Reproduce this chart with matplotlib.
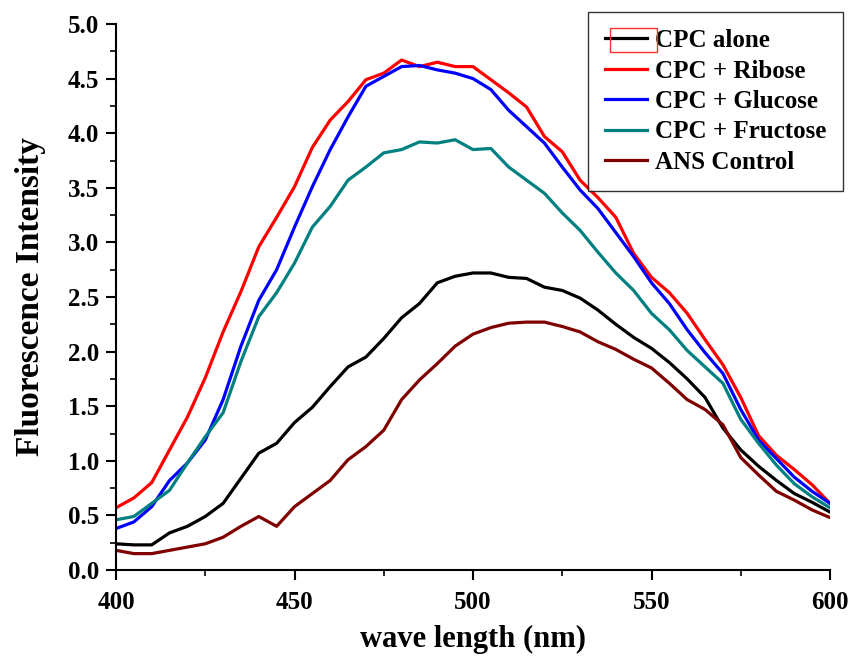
import matplotlib
matplotlib.use("Agg")
import matplotlib.pyplot as plt
from matplotlib.patches import Rectangle
from matplotlib.ticker import MultipleLocator

wavelength = list(range(400, 601, 5))

cpc_alone = [0.24, 0.23, 0.23, 0.34, 0.40, 0.49, 0.61, 0.84, 1.07, 1.16,
             1.35, 1.49, 1.68, 1.86, 1.95, 2.12, 2.31, 2.44, 2.63, 2.69,
             2.72, 2.72, 2.68, 2.67, 2.59, 2.56, 2.49, 2.38, 2.25, 2.13,
             2.03, 1.90, 1.75, 1.58, 1.30, 1.10, 0.95, 0.82, 0.70, 0.62, 0.53]

cpc_ribose = [0.57, 0.66, 0.80, 1.10, 1.40, 1.76, 2.18, 2.55, 2.96, 3.23,
              3.51, 3.87, 4.12, 4.29, 4.49, 4.55, 4.67, 4.61, 4.65, 4.61,
              4.61, 4.49, 4.37, 4.24, 3.97, 3.83, 3.57, 3.41, 3.23, 2.90,
              2.68, 2.54, 2.35, 2.11, 1.88, 1.58, 1.23, 1.05, 0.92, 0.78, 0.61]

cpc_glucose = [0.38, 0.44, 0.58, 0.82, 0.98, 1.19, 1.56, 2.05, 2.47, 2.75,
               3.14, 3.51, 3.85, 4.15, 4.43, 4.52, 4.61, 4.62, 4.58, 4.55,
               4.50, 4.40, 4.21, 4.06, 3.91, 3.69, 3.48, 3.31, 3.09, 2.87,
               2.63, 2.44, 2.20, 1.99, 1.80, 1.47, 1.19, 1.02, 0.85, 0.72, 0.61]

cpc_fructose = [0.46, 0.49, 0.61, 0.73, 0.98, 1.22, 1.44, 1.91, 2.32, 2.54,
                2.81, 3.14, 3.33, 3.57, 3.69, 3.82, 3.85, 3.92, 3.91, 3.94,
                3.85, 3.86, 3.69, 3.57, 3.45, 3.27, 3.11, 2.91, 2.72, 2.56,
                2.35, 2.20, 2.01, 1.86, 1.71, 1.38, 1.16, 0.96, 0.79, 0.67, 0.57]

ans_control = [0.18, 0.15, 0.15, 0.18, 0.21, 0.24, 0.30, 0.40, 0.49, 0.40,
               0.58, 0.70, 0.82, 1.01, 1.13, 1.28, 1.56, 1.74, 1.89, 2.05,
               2.16, 2.22, 2.26, 2.27, 2.27, 2.23, 2.18, 2.09, 2.02, 1.93,
               1.85, 1.71, 1.56, 1.47, 1.33, 1.03, 0.87, 0.72, 0.64, 0.55, 0.48]

labels = ["CPC alone", "CPC + Ribose", "CPC + Glucose", "CPC + Fructose", "ANS Control"]
colors = ["#000000", "#ff0000", "#0000ff", "#008080", "#800000"]
series = [cpc_alone, cpc_ribose, cpc_glucose, cpc_fructose, ans_control]

x_ticks = [400, 450, 500, 550, 600]
y_ticks = [0.0, 0.5, 1.0, 1.5, 2.0, 2.5, 3.0, 3.5, 4.0, 4.5, 5.0]

plt.rcParams['font.family'] = ['Liberation Serif', 'DejaVu Serif']
plt.rcParams['font.weight'] = 'bold'

fig = plt.figure(figsize=(8.49, 6.57), dpi=100)
ax = fig.add_axes([116/849, 1-570/657, (830-116)/849, (570-24)/657])

handles = []
for ys, lab, col in zip(series, labels, colors):
    h, = ax.plot(wavelength, ys, color=col, lw=2.3, label=lab)
    handles.append(h)

ax.set_xlim(400, 600)
ax.set_ylim(0, 5.0)
ax.set_xticks(x_ticks)
ax.set_yticks(y_ticks)
ax.set_xticklabels([str(v) for v in x_ticks])
ax.set_yticklabels([f"{v:.1f}" for v in y_ticks])
ax.xaxis.set_minor_locator(MultipleLocator(25))
ax.yaxis.set_minor_locator(MultipleLocator(0.25))
ax.tick_params(axis='both', which='major', direction='out', length=7, width=1.5,
               labelsize=18, pad=5)
ax.tick_params(axis='x', which='major', pad=8)
ax.tick_params(axis='both', which='minor', direction='out', length=4, width=1.2)
for lab in ax.get_xticklabels() + ax.get_yticklabels():
    lab.set_fontweight('bold')

for s in ['top', 'right']:
    ax.spines[s].set_visible(False)
for s in ['left', 'bottom']:
    ax.spines[s].set_linewidth(1.5)

ax.set_xlabel("wave length (nm)", fontsize=22, fontweight='bold', labelpad=8)
ax.set_ylabel("Fluorescence Intensity", fontsize=24, fontweight='bold', labelpad=16)

leg = ax.legend(handles=handles, loc='upper right',
                bbox_to_anchor=(843/849, 1-12/657), bbox_transform=fig.transFigure,
                borderaxespad=0, fancybox=False, frameon=True, edgecolor='black',
                handlelength=1.7, handletextpad=0.3, labelspacing=0.3,
                borderpad=0.68, prop={'weight': 'bold', 'size': 18})
leg.get_frame().set_linewidth(1.0)

fig.patches.append(Rectangle((610/849, 1-52/657), 47/849, 24/657,
                             transform=fig.transFigure, fill=False,
                             edgecolor='#ff3030', lw=1.0, zorder=10))

fig.savefig("out.png", dpi=100)
